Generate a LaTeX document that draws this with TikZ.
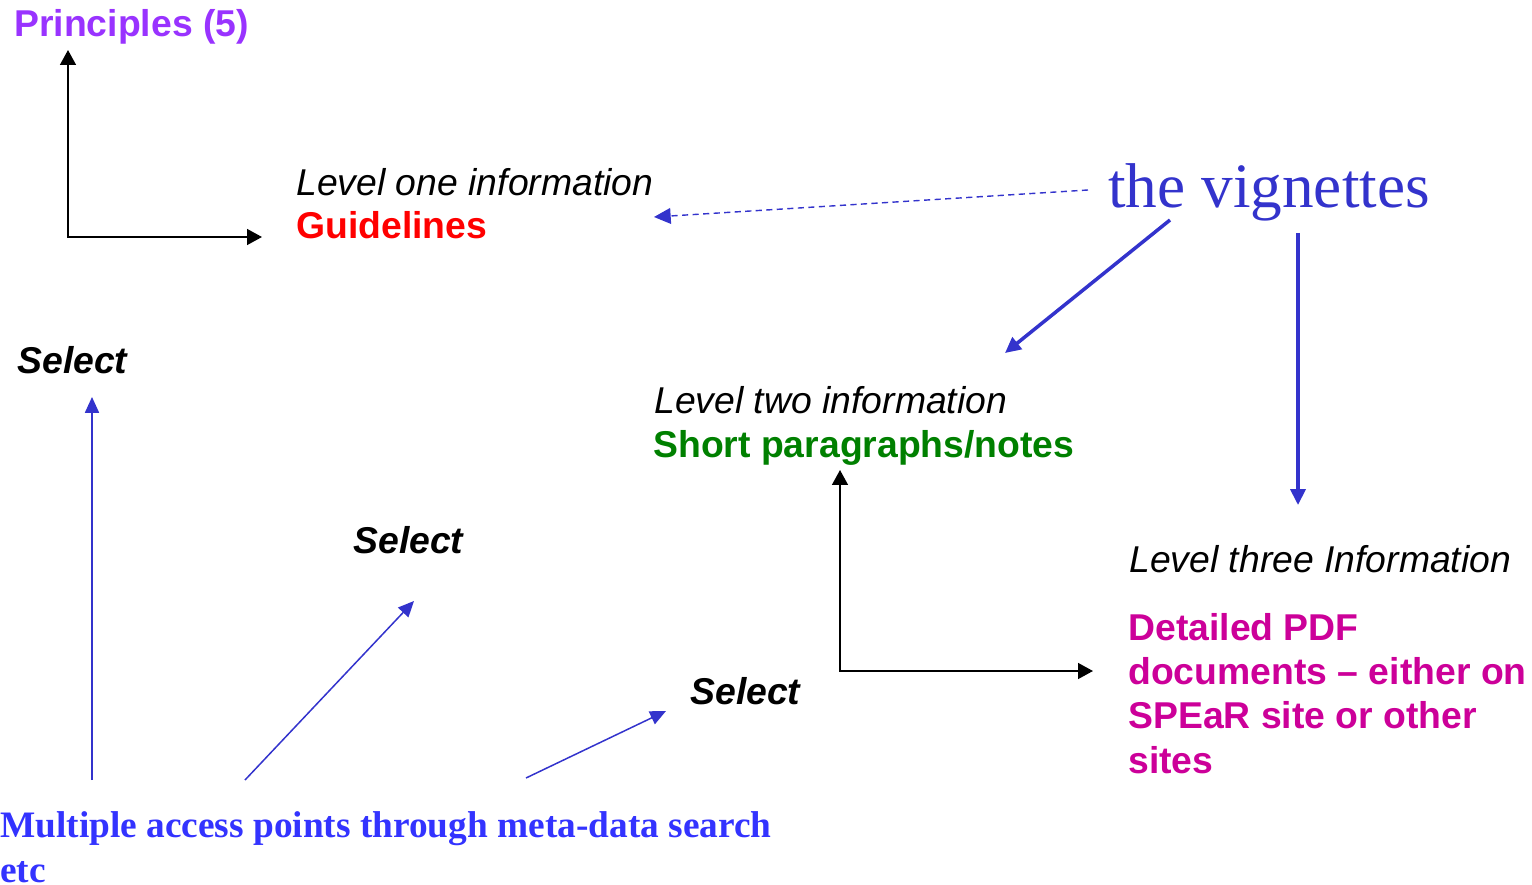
\documentclass[tikz,border=0pt]{standalone}
\usepackage{fontspec}
\setmainfont{Liberation Serif}
\setsansfont{Liberation Sans}
\usetikzlibrary{arrows, arrows.meta}
\definecolor{princcol}{RGB}{153,51,255}
\definecolor{vigncol}{RGB}{51,51,204}
\definecolor{shortcol}{RGB}{0,128,0}
\definecolor{pdfcol}{RGB}{204,0,153}
\definecolor{accesscol}{RGB}{51,51,255}

\begin{document}
\begin{tikzpicture}[x=0.02cm, y=-0.02cm,
  lbl/.style={anchor=base west, inner sep=0pt},
  itl/.style={lbl, font=\sffamily\itshape\fontsize{21.25}{25}\selectfont},
  bld/.style={lbl, font=\sffamily\bfseries\fontsize{21.25}{25}\selectfont},
  sel/.style={lbl, font=\sffamily\bfseries\itshape\fontsize{21.25}{25}\selectfont},
  blackarr/.style={>={Triangle[length=8.5pt,width=9pt]}, line width=1.1pt},
  bluearr/.style={>={Triangle[length=9pt,width=8.5pt]}, ->, vigncol, line width=2pt},
  thinarr/.style={>={Triangle[length=9pt,width=8pt]}, ->, vigncol, line width=0.85pt},
  dasharr/.style={>={Triangle[length=9.5pt,width=9pt]}, ->, vigncol, line width=0.8pt,
    dash pattern=on 3.5pt off 2.5pt}]
\useasboundingbox (0,0) rectangle (1532,885);

\node[bld, princcol] (princ) at (14,37) {Principles (5)};
\node[itl] (lone) at (296,196) {Level one information};
\node[bld, red] (guide) at (296,239) {Guidelines};
\node[lbl, vigncol, font=\rmfamily\fontsize{36}{40}\selectfont] (vign) at (1108,208) {the vignettes};
\node[itl] (ltwo) at (654,413) {Level two information};
\node[bld, shortcol] (short) at (653,457) {Short paragraphs/notes};
\node[itl] (lthree) at (1129,572) {Level three Information};
\node[anchor=north west, inner sep=0pt, align=left, pdfcol,
  font=\sffamily\bfseries\fontsize{21.25}{25.2}\selectfont] (pdf) at (1128,613)
  {Detailed PDF\\documents -- either on\\SPEaR site or other\\sites};
\node[sel] (sela) at (17,374) {Select};
\node[sel] (selb) at (353,553) {Select};
\node[sel] (selc) at (690,704) {Select};
\node[anchor=north west, inner sep=0pt, align=left, accesscol,
  font=\rmfamily\bfseries\fontsize{21.25}{25.6}\selectfont] (access) at (0,811)
  {Multiple access points through meta-data search\\etc};

% arrow ends
\coordinate (princend) at (68,50);
\coordinate (guideend) at (262,237);
\coordinate (shortend) at (840,470);
\coordinate (pdfend) at (1093,671);
\coordinate (dashstart) at (1088,190);
\coordinate (dashend) at (654,217);
\coordinate (vigna) at (1170,220);
\coordinate (ltwoend) at (1005,353);
\coordinate (vignb) at (1298,233);
\coordinate (lthreeend) at (1298,505);
\coordinate (acca) at (92,780);
\coordinate (accb) at (245,780);
\coordinate (accc) at (526,778);
\coordinate (selaend) at (92,397);
\coordinate (selbend) at (414,601);
\coordinate (selcend) at (666,711);

\draw[blackarr, <->] (princend) |- (guideend);
\draw[blackarr, <->] (shortend) |- (pdfend);
\draw[dasharr] (dashstart) -- (dashend);
\draw[bluearr] (vigna) -- (ltwoend);
\draw[bluearr] (vignb) -- (lthreeend);
\draw[thinarr] (acca) -- (selaend);
\draw[thinarr] (accb) -- (selbend);
\draw[thinarr] (accc) -- (selcend);
\end{tikzpicture}
\end{document}
